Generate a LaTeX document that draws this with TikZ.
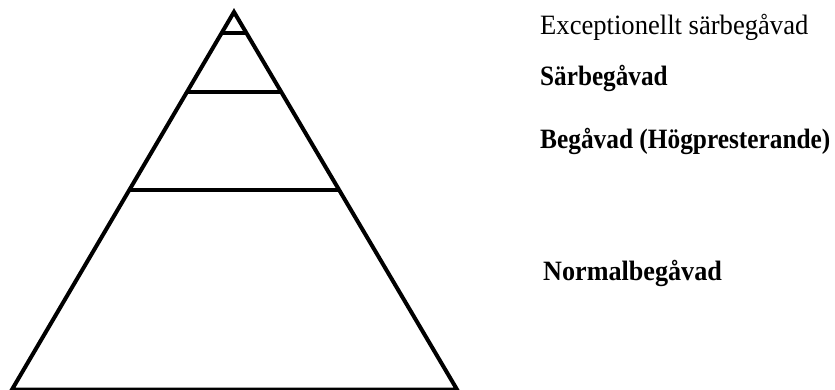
\documentclass[tikz,border=0pt]{standalone}
\usepackage{fontspec}
\setmainfont{Liberation Serif}
\usetikzlibrary{calc}
\newcommand{\narrowtext}[2]{\scalebox{#1}[1]{#2}}
\tikzset{
  edge/.style={black, line width=4pt},
  tier/.style={black, line width=4pt},
  lab/.style={anchor=base west, inner sep=0pt,
              font=\fontsize{28}{32}\selectfont},
  boldlab/.style={lab, font=\fontsize{28}{32}\selectfont\bfseries},
}

\begin{document}
\begin{tikzpicture}[x=1pt,y=-1pt]
  \path[use as bounding box] (0,0) rectangle (835,390);

  % Pyramid outline.
  \coordinate (apex) at (234,12);
  \coordinate (baseL) at (12,389.5);
  \coordinate (baseR) at (457,389.5);
  \draw[edge] (apex) -- (baseL) -- (baseR) -- cycle;

  % Tier lines.
  \draw[tier] ($(apex)!0.0557!(baseL)$) -- ($(apex)!0.0557!(baseR)$);
  \draw[tier] ($(apex)!0.2122!(baseL)$) -- ($(apex)!0.2122!(baseR)$);
  \draw[tier] ($(apex)!0.4721!(baseL)$) -- ($(apex)!0.4721!(baseR)$);

  % Labels.
  \node[lab] (exceptional) at (540,35) {\narrowtext{0.95}{Exceptionellt särbegåvad}};
  \node[boldlab] (gifted) at (540,86) {\narrowtext{0.90}{Särbegåvad}};
  \node[boldlab] (able) at (540,149) {\narrowtext{0.905}{Begåvad (Högpresterande)}};
  \node[boldlab] (normal) at (543,280) {\narrowtext{0.934}{Normalbegåvad}};
\end{tikzpicture}
\end{document}
